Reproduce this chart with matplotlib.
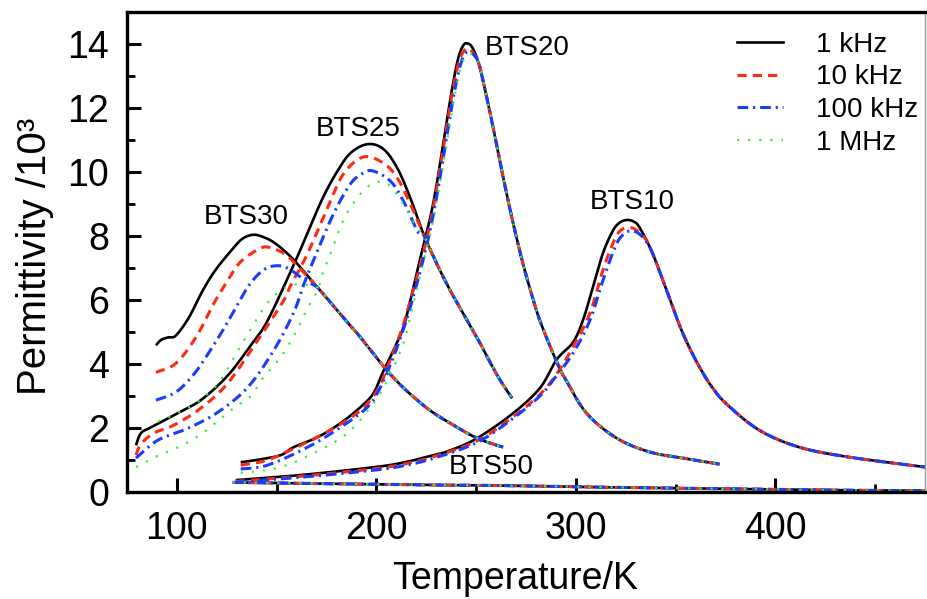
import numpy as np
import matplotlib
matplotlib.use("Agg")
import matplotlib.pyplot as plt
from matplotlib.ticker import MultipleLocator
from matplotlib.lines import Line2D

plt.rcParams['font.family'] = ['Liberation Sans', 'DejaVu Sans']

# ---------------- data (temperature K, permittivity /10^3) ----------------
# BTS30
bts30_T_1k = [89.5, 92, 95.5, 99.5, 106, 113, 119.5, 128, 133, 138.5, 144, 149.5, 158]
bts30_E_1k = [4.58, 4.75, 4.83, 4.89, 5.45, 6.3, 6.95, 7.6, 7.92, 8.04, 7.95, 7.76, 7.29]
bts30_T_10k = [89.5, 99.5, 109.5, 118.5, 124.5, 131, 138, 144.5, 153, 159.5]
bts30_E_10k = [3.74, 4.02, 4.83, 5.89, 6.51, 7.13, 7.48, 7.66, 7.48, 7.13]
bts30_T_100k = [89.5, 99.5, 108, 114.5, 123, 129.5, 136, 143, 149.5, 156, 164.5]
bts30_E_100k = [2.87, 3.12, 3.64, 4.21, 5.05, 5.76, 6.45, 6.92, 7.07, 6.98, 6.6]
bts30_T_1M = [90.5, 100, 110, 119.5, 124.5, 129.5, 141, 146, 152, 157, 162, 167]
bts30_E_1M = [2.2, 2.45, 2.8, 3.3, 3.75, 4.3, 5.5, 5.95, 6.3, 6.45, 6.5, 6.45]
bts30_T_tail = [170.5, 178, 185.5, 190.5, 197.5, 204.5, 212, 220.5, 228, 237, 250.5, 263.5]
bts30_E_tail = [6.39, 5.85, 5.3, 4.95, 4.4, 3.86, 3.35, 2.87, 2.5, 2.15, 1.68, 1.40]

# BTS25
bts25_T_1k = [79.5, 82, 87, 98.5, 112, 125.5, 137, 145.5, 159.5, 168, 174, 180.5, 187, 195.5, 203.5, 210.5, 217]
bts25_E_1k = [1.46, 1.84, 2.02, 2.4, 2.87, 3.64, 4.58, 5.36, 7.23, 8.47, 9.3, 10.03, 10.59, 10.87, 10.72, 10.12, 9.19]
bts25_T_10k = [79.5, 82, 88.5, 98.5, 112, 125.5, 140.5, 153.5, 157, 165.5, 175.5, 183.5, 193.5, 203.5, 210.5, 217]
bts25_E_10k = [1.15, 1.5, 1.84, 2.09, 2.62, 3.4, 4.74, 5.98, 6.45, 7.45, 8.88, 9.94, 10.47, 10.28, 9.81, 9.0]
bts25_T_100k = [79.5, 90.5, 105.5, 120.5, 135.5, 148.5, 158.5, 164, 170.5, 178.5, 187, 193.5, 198.5, 207, 213.5, 220.5]
bts25_E_100k = [1.06, 1.62, 1.99, 2.49, 3.27, 4.42, 5.6, 6.55, 7.54, 8.69, 9.63, 9.97, 10.03, 9.72, 9.1, 8.16]
bts25_T_1M = [79.5, 90, 100, 112, 128, 137, 143, 153, 160.5, 165.5, 170.5, 173.5, 177, 183.5, 190.5, 197, 203, 207, 213.5, 220]
bts25_E_1M = [0.78, 1.12, 1.38, 1.8, 2.6, 3.0, 3.55, 4.3, 5.1, 5.75, 6.3, 6.9, 7.45, 8.5, 9.2, 9.6, 9.7, 9.56, 9.0, 8.3]
bts25_T_tail = [224, 230.5, 237, 242, 247, 252, 257, 262, 268]
bts25_E_tail = [8.0, 7.1, 6.3, 5.75, 5.2, 4.65, 4.05, 3.5, 2.93]

# BTS20
bts20_T_1k = [132, 140, 152, 158.5, 170.5, 182, 192, 198.5, 203, 208.5, 213.5, 217, 222, 227, 230.5, 234.5, 238, 241, 243.5, 245.5, 248]
bts20_E_1k = [0.93, 1.0, 1.15, 1.40, 1.71, 2.15, 2.65, 3.08, 3.71, 4.42, 5.14, 5.98, 7.3, 8.57, 9.72, 11.28, 12.62, 13.55, 13.95, 14.02, 13.9]
bts20_T_10k = [132, 145.5, 162, 178.5, 192, 200.5, 205.5, 212, 216, 222, 227, 230.5, 234.5, 238, 241, 243.5, 246.5]
bts20_E_10k = [0.84, 1.0, 1.46, 1.99, 2.55, 3.18, 3.89, 4.95, 5.76, 7.1, 8.4, 9.6, 11.1, 12.45, 13.35, 13.75, 13.85]
bts20_T_100k = [132, 145.5, 165.5, 182, 195.5, 202, 208.5, 214.5, 218, 222, 227, 231, 235, 238.5, 241.5, 244, 247]
bts20_E_100k = [0.72, 0.84, 1.40, 2.02, 2.65, 3.27, 4.21, 5.26, 6.0, 6.9, 8.2, 9.5, 11.0, 12.3, 13.2, 13.65, 13.75]
bts20_T_1M = [132, 150.5, 168.5, 185.5, 198.5, 205.5, 213.5, 218, 222.5, 227.5, 231.5, 235.5, 239, 242, 244.5, 247.5]
bts20_E_1M = [0.6, 0.75, 1.21, 1.84, 2.77, 3.49, 4.64, 5.76, 6.9, 8.2, 9.5, 11.0, 12.3, 13.2, 13.6, 13.7]
bts20_T_tail = [251, 254, 258, 263, 268, 273, 277, 282, 290.5, 295.5, 305.5, 320.5, 337, 353.5, 372]
bts20_E_tail = [13.45, 12.7, 11.55, 10.0, 8.55, 7.25, 6.35, 5.35, 4.05, 3.45, 2.45, 1.68, 1.25, 1.06, 0.87]

# BTS10
bts10_T_1k = [129.5, 162, 195.5, 212, 228.5, 237, 250.5, 268.5, 282, 290.5, 298.5, 303.5, 308.5, 313.5, 318.5, 322, 325.5, 329, 332]
bts10_E_1k = [0.37, 0.53, 0.75, 0.9, 1.15, 1.3, 1.68, 2.46, 3.25, 4.15, 4.67, 5.36, 6.39, 7.45, 8.16, 8.42, 8.5, 8.45, 8.26]
bts10_T_10k = [129.5, 162, 195.5, 212, 228.5, 250.5, 268.5, 282, 290.5, 298.5, 307, 313.5, 318.5, 322, 326, 330, 335]
bts10_E_10k = [0.33, 0.49, 0.7, 0.85, 1.1, 1.6, 2.35, 3.05, 3.7, 4.52, 5.58, 6.92, 7.76, 8.15, 8.26, 8.2, 7.9]
bts10_T_100k = [129.5, 162, 195.5, 212, 228.5, 250.5, 268.5, 282, 288.5, 298.5, 307, 313.5, 319.5, 323, 327, 331, 335]
bts10_E_100k = [0.3, 0.46, 0.66, 0.8, 1.05, 1.55, 2.3, 3.0, 3.49, 4.33, 5.36, 6.6, 7.63, 8.0, 8.16, 8.1, 7.85]
bts10_T_tail = [338.5, 345.5, 352, 357, 362, 368, 375.5, 392, 412, 437, 475]
bts10_E_tail = [7.45, 6.3, 5.2, 4.5, 3.9, 3.3, 2.75, 1.93, 1.40, 1.09, 0.78]

# BTS50 (all frequencies overlap)
bts50_T = [128, 150, 175, 200, 225, 250, 275, 300, 325, 350, 375, 400, 425, 450, 475]
bts50_E = [0.3, 0.28, 0.26, 0.24, 0.22, 0.21, 0.19, 0.16, 0.14, 0.12, 0.1, 0.08, 0.06, 0.05, 0.04]

freq_labels = ['1 kHz', '10 kHz', '100 kHz', '1 MHz']
sample_labels = ['BTS30', 'BTS25', 'BTS20', 'BTS10', 'BTS50']
label_pos_T = [135, 191, 275.5, 328.5, 257.5]
label_pos_E = [8.6, 11.35, 13.86, 9.07, 0.78]

# ---------------- styles ----------------
styles = [
    dict(color='black', lw=1.9, ls='-'),
    dict(color='#ff2a10', lw=2.2, ls=(0, (3, 2))),
    dict(color='#1a3cff', lw=2.2, ls=(0, (3.5, 1.6, 0.7, 1.6))),
    dict(color='#3fea3f', lw=1.6, ls=(0, (1, 4))),
]

fig = plt.figure(figsize=(9.27, 5.99), dpi=100)
ax = fig.add_axes([127 / 927, 1 - 492 / 599, (925 - 127) / 927, (492 - 12) / 599])


def join(a, b):
    return list(a) + list(b)


samples = {
    'BTS30': [(join(bts30_T_1k, bts30_T_tail), join(bts30_E_1k, bts30_E_tail)),
              (join(bts30_T_10k, bts30_T_tail), join(bts30_E_10k, bts30_E_tail)),
              (join(bts30_T_100k, bts30_T_tail), join(bts30_E_100k, bts30_E_tail)),
              (join(bts30_T_1M, bts30_T_tail), join(bts30_E_1M, bts30_E_tail))],
    'BTS25': [(join(bts25_T_1k, bts25_T_tail), join(bts25_E_1k, bts25_E_tail)),
              (join(bts25_T_10k, bts25_T_tail), join(bts25_E_10k, bts25_E_tail)),
              (join(bts25_T_100k, bts25_T_tail), join(bts25_E_100k, bts25_E_tail)),
              (join(bts25_T_1M, bts25_T_tail), join(bts25_E_1M, bts25_E_tail))],
    'BTS20': [(join(bts20_T_1k, bts20_T_tail), join(bts20_E_1k, bts20_E_tail)),
              (join(bts20_T_10k, bts20_T_tail), join(bts20_E_10k, bts20_E_tail)),
              (join(bts20_T_100k, bts20_T_tail), join(bts20_E_100k, bts20_E_tail)),
              (join(bts20_T_1M, bts20_T_tail), join(bts20_E_1M, bts20_E_tail))],
    'BTS10': [(join(bts10_T_1k, bts10_T_tail), join(bts10_E_1k, bts10_E_tail)),
              (join(bts10_T_10k, bts10_T_tail), join(bts10_E_10k, bts10_E_tail)),
              (join(bts10_T_100k, bts10_T_tail), join(bts10_E_100k, bts10_E_tail))],
    'BTS50': [(bts50_T, bts50_E)] * 4,
}


def smooth(T, E):
    # Catmull-Rom spline drawn through the read points
    T = np.asarray(T, float)
    E = np.asarray(E, float)
    order = np.argsort(T)
    T, E = T[order], E[order]
    xs, ys = [], []
    n = len(T)
    for i in range(n - 1):
        p0 = (T[i - 1], E[i - 1]) if i > 0 else (T[i], E[i])
        p1 = (T[i], E[i])
        p2 = (T[i + 1], E[i + 1])
        p3 = (T[i + 2], E[i + 2]) if i + 2 < n else (T[i + 1], E[i + 1])
        for t in np.linspace(0, 1, 12, endpoint=False):
            t2, t3 = t * t, t * t * t
            x = 0.5 * ((2 * p1[0]) + (-p0[0] + p2[0]) * t + (2 * p0[0] - 5 * p1[0] + 4 * p2[0] - p3[0]) * t2 + (-p0[0] + 3 * p1[0] - 3 * p2[0] + p3[0]) * t3)
            y = 0.5 * ((2 * p1[1]) + (-p0[1] + p2[1]) * t + (2 * p0[1] - 5 * p1[1] + 4 * p2[1] - p3[1]) * t2 + (-p0[1] + 3 * p1[1] - 3 * p2[1] + p3[1]) * t3)
            xs.append(x)
            ys.append(y)
    xs.append(T[-1])
    ys.append(E[-1])
    return xs, ys


for fi in range(4):
    for name, curves in samples.items():
        if fi < len(curves):
            T, E = curves[fi]
            xs, ys = smooth(T, E)
            ax.plot(xs, ys, **styles[fi], solid_capstyle='butt', dash_capstyle='butt')

for lab, tx, ty in zip(sample_labels, label_pos_T, label_pos_E):
    ax.text(tx, ty, lab, fontsize=20, ha='center', va='center')

ax.set_xlim(75, 475)
ax.set_ylim(0, 15)
ax.xaxis.set_major_locator(MultipleLocator(100))
ax.xaxis.set_minor_locator(MultipleLocator(50))
ax.yaxis.set_major_locator(MultipleLocator(2))
ax.yaxis.set_minor_locator(MultipleLocator(1))
ax.tick_params(which='major', direction='in', length=10, width=2.2, labelsize=27)
ax.tick_params(axis='x', which='major', pad=14)
ax.tick_params(axis='y', which='major', pad=13)
ax.tick_params(which='minor', direction='in', length=6, width=2.0)
ax.tick_params(top=False, right=False)
for s in ['left', 'bottom', 'top']:
    ax.spines[s].set_linewidth(2.4)
ax.spines['right'].set_linewidth(1.0)
ax.spines['right'].set_color('#999999')

ax.set_xlabel('Temperature/K', fontsize=27)
ax.xaxis.set_label_coords(0.486, -0.144)
ax.xaxis.label.set_va('top')
ax.set_ylabel('Permittivity /10³', fontsize=29)
ax.yaxis.set_label_coords(-0.092, 0.49)

handles = [Line2D([], [], **st) for st in styles]
ax.legend(handles, freq_labels, loc='upper left', bbox_to_anchor=(0.764, 0.959),
          frameon=False, fontsize=20, handlelength=1.65, handletextpad=1.22,
          labelspacing=0.24, borderpad=0, borderaxespad=0)

fig.savefig('out.png', dpi=100)
